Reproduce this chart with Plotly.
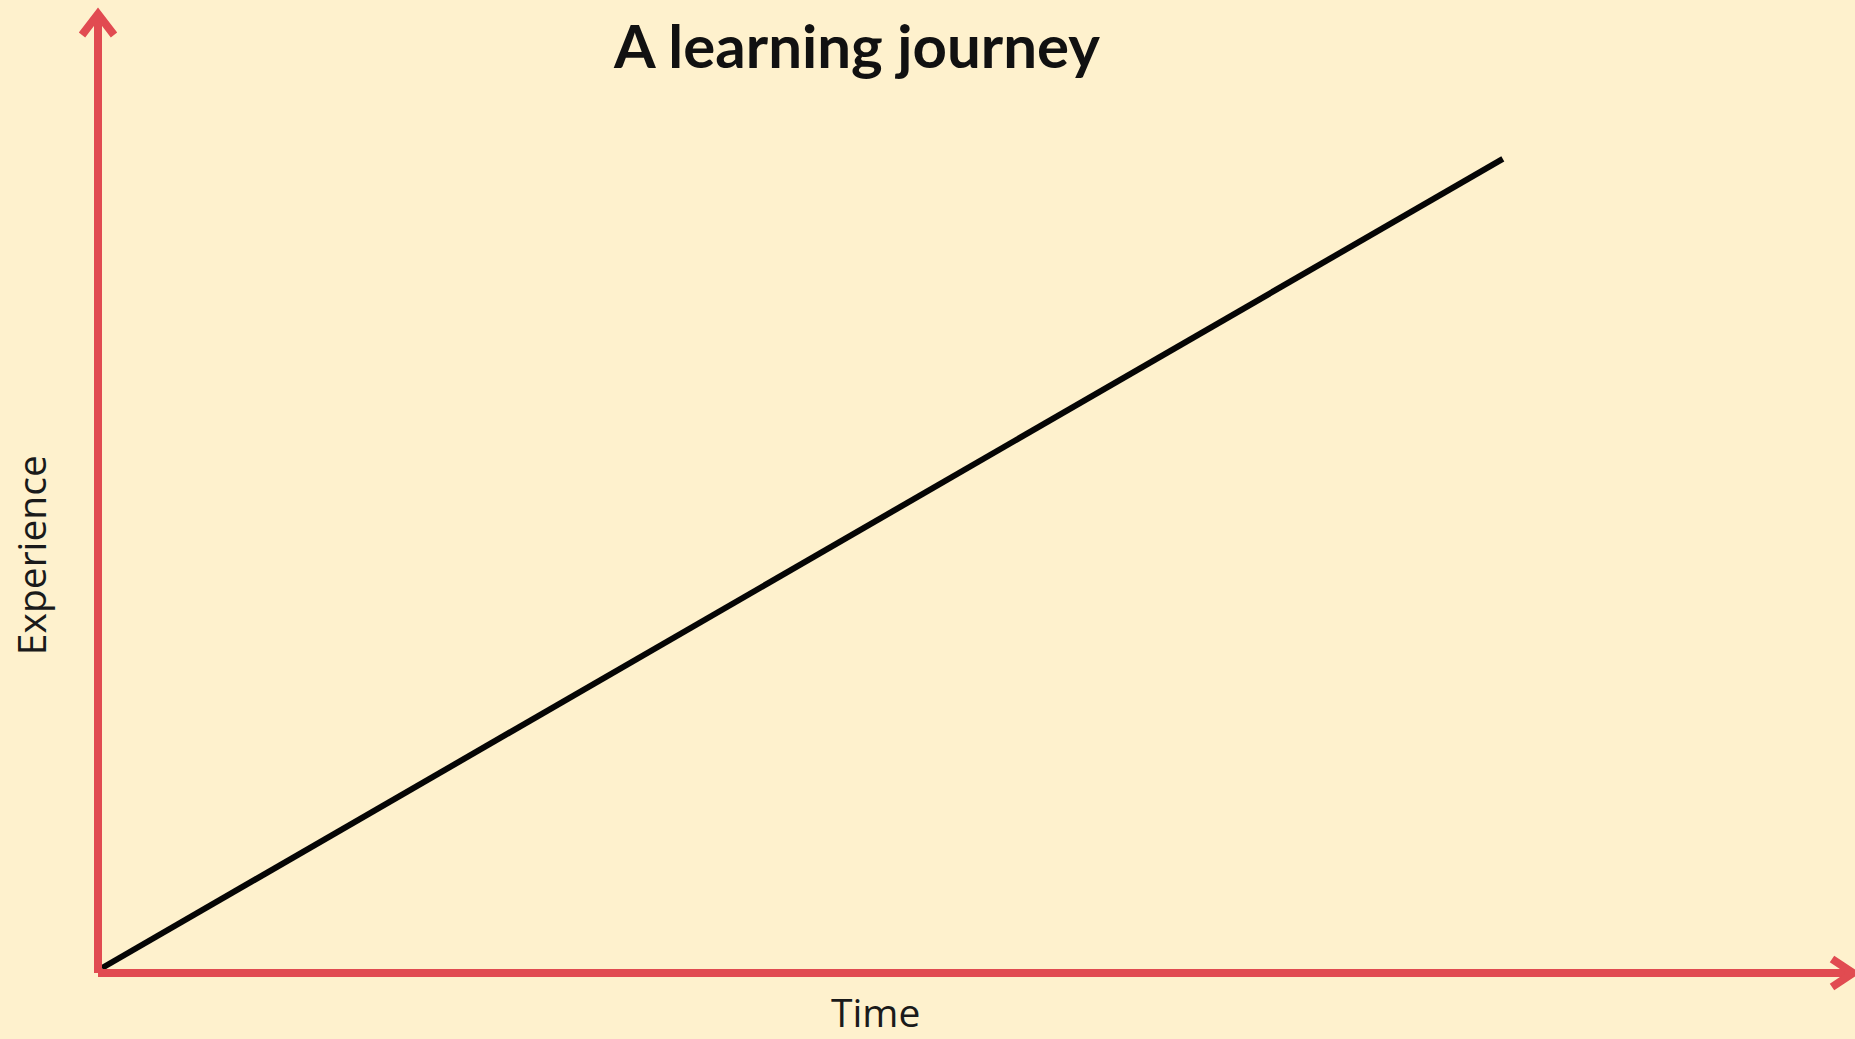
import plotly.graph_objects as go

# data
time = [0, 10]
experience = [0, 10]

title_text = "A learning journey"
x_label = "Time"
y_label = "Experience"

bg = "#FEF1CD"
red = "#E14B51"

fig = go.Figure()
fig.add_trace(go.Scatter(x=time, y=experience, mode="lines",
                         line=dict(color="#050505", width=6),
                         showlegend=False, hoverinfo="skip"))

# red axes drawn as shapes so they can carry open arrow heads
axis_line = dict(color=red, width=8)
fig.add_shape(type="line", xref="paper", yref="paper",
              x0=0, y0=0, x1=0, y1=1, line=axis_line)
fig.add_shape(type="line", xref="paper", yref="paper",
              x0=0, y0=0, x1=1, y1=0, line=axis_line)
# arrow heads (pixel sized, anchored at the axis ends)
fig.add_shape(type="path", xref="paper", yref="paper",
              xsizemode="pixel", ysizemode="pixel", xanchor=0, yanchor=1,
              path="M-16,-21 L0,0 L16,-21", line=axis_line)
fig.add_shape(type="path", xref="paper", yref="paper",
              xsizemode="pixel", ysizemode="pixel", xanchor=1, yanchor=0,
              path="M-21,14 L0,0 L-21,-14", line=axis_line)

fig.add_annotation(text=y_label, xref="paper", yref="paper",
                   x=-0.038, y=0.436, xanchor="center", yanchor="middle",
                   textangle=-90, showarrow=False,
                   font=dict(family="Open Sans", size=39, color="#1a1a1a"))
fig.add_annotation(text=x_label, xref="paper", yref="paper",
                   x=0.443, y=-0.011, xanchor="center", yanchor="top",
                   showarrow=False, borderpad=0,
                   font=dict(family="Open Sans", size=39, color="#1a1a1a"))

fig.update_layout(title=dict(text=title_text, x=0.462, xref="container", xanchor="center",
                             y=0.975, yref="container", yanchor="top",
                             font=dict(family="Lato", size=60, weight="bold", color="#111111")),
                  paper_bgcolor=bg, plot_bgcolor=bg,
                  width=1855, height=1039,
                  margin=dict(l=98, r=2, t=14, b=66))
fig.update_xaxes(range=[-0.0286, 12.50], showgrid=False, zeroline=False,
                 showticklabels=False, ticks="", showline=False)
fig.update_yaxes(range=[-0.0618, 11.79], showgrid=False, zeroline=False,
                 showticklabels=False, ticks="", showline=False)

# drop the default page margin so the figure fills the window
fig.write_html("out.html", config={"displayModeBar": False},
               post_script="document.body.style.margin='0';document.body.style.overflow='hidden';")
